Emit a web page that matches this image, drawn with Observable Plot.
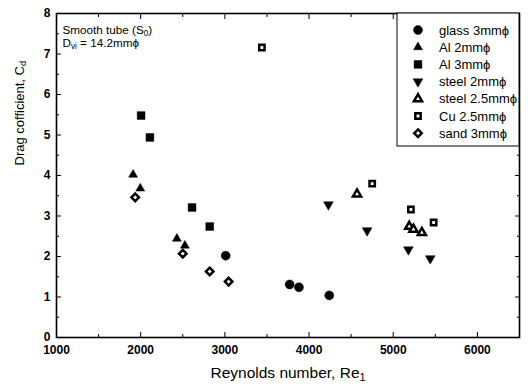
<!DOCTYPE html>
<html><head><meta charset="utf-8">
<script src="https://cdn.jsdelivr.net/npm/d3@7"></script>
<script src="https://cdn.jsdelivr.net/npm/@observablehq/plot@0.6"></script>
<style>body{margin:0;background:#fff} #chart{width:529px;height:390px}</style>
</head><body><div id="chart"></div>
<script>
// ---- data ----
const seriesNames = ["glass 3mmϕ", "Al 2mmϕ", "Al 3mmϕ", "steel 2mmϕ", "steel 2.5mmϕ", "Cu 2.5mmϕ", "sand 3mmϕ"];
const glassRe = [3010, 3770, 3880, 4240];
const glassCd = [2.02, 1.31, 1.24, 1.04];
const al2Re = [1910, 1995, 2430, 2525];
const al2Cd = [4.02, 3.68, 2.44, 2.27];
const al3Re = [2005, 2110, 2610, 2820];
const al3Cd = [5.48, 4.94, 3.21, 2.74];
const steel2Re = [4230, 4690, 5180, 5440];
const steel2Cd = [3.28, 2.64, 2.17, 1.95];
const steel25Re = [4570, 5190, 5240, 5340];
const steel25Cd = [3.54, 2.74, 2.67, 2.59];
const cuRe = [3440, 4750, 5210, 5480];
const cuCd = [7.16, 3.80, 3.16, 2.84];
const sandRe = [1935, 2500, 2820, 3045];
const sandCd = [3.46, 2.07, 1.63, 1.38];
const xMajorTicks = [1000, 2000, 3000, 4000, 5000, 6000];
const xMinorTicks = [1500, 2500, 3500, 4500, 5500];
const yMajorTicks = [0, 1, 2, 3, 4, 5, 6, 7, 8];
const yMinorTicks = [0.5, 1.5, 2.5, 3.5, 4.5, 5.5, 6.5, 7.5];

// ---- symbols & styles ----
const triDown = {draw(ctx, size) {
  const y = -Math.sqrt(size / (3 * Math.sqrt(3)));
  ctx.moveTo(0, -y * 2); ctx.lineTo(-Math.sqrt(3) * y, y); ctx.lineTo(Math.sqrt(3) * y, y); ctx.closePath();
}};
const diamondSq = {draw(ctx, size) {
  const h = Math.sqrt(size / 2);
  ctx.moveTo(0, -h); ctx.lineTo(h, 0); ctx.lineTo(0, h); ctx.lineTo(-h, 0); ctx.closePath();
}};
const styles = [
  {symbol: d3.symbolCircle, r: 4.5, open: false},
  {symbol: d3.symbolTriangle, r: 3.3, open: false},
  {symbol: d3.symbolSquare, r: 4.4, open: false},
  {symbol: triDown, r: 3.6, open: false},
  {symbol: d3.symbolTriangle, r: 3.0, open: true},
  {symbol: d3.symbolSquare, r: 3.0, open: true},
  {symbol: diamondSq, r: 3.0, open: true}
];
const seriesRe = [glassRe, al2Re, al3Re, steel2Re, steel25Re, cuRe, sandRe];
const seriesCd = [glassCd, al2Cd, al3Cd, steel2Cd, steel25Cd, cuCd, sandCd];

const font = "'Liberation Sans', Arial, Helvetica, sans-serif";
const blank = () => "";
const plain = d => String(d);
const openStroke = 2.5;

const dotMarks = seriesNames.map((name, i) => {
  const st = styles[i];
  const pts = seriesRe[i].map((x, j) => ({x, y: seriesCd[i][j]}));
  return Plot.dot(pts, {
    x: "x", y: "y", symbol: st.symbol, r: st.r,
    fill: st.open ? "white" : "black", stroke: "black", strokeWidth: st.open ? openStroke : 0.5
  });
});

const plot = Plot.plot({
  width: 529, height: 390,
  marginLeft: 56, marginRight: 10, marginTop: 13, marginBottom: 53,
  style: {fontFamily: font, fontSize: "12px", color: "black", background: "white"},
  x: {domain: [1000, 6500]},
  y: {domain: [0, 8]},
  marks: [
    Plot.axisX(xMajorTicks, {anchor: "bottom", tickSize: 0, tickPadding: 8, tickFormat: plain, fontWeight: "bold", fontSize: 12, label: null}),
    Plot.axisX(xMajorTicks, {anchor: "bottom", tickSize: -5, tickFormat: blank, label: null}),
    Plot.axisX(xMinorTicks, {anchor: "bottom", tickSize: -3, tickFormat: blank, label: null}),
    Plot.axisX(xMajorTicks, {anchor: "top", tickSize: -5, tickFormat: blank, label: null}),
    Plot.axisX(xMinorTicks, {anchor: "top", tickSize: -3, tickFormat: blank, label: null}),
    Plot.axisY(yMajorTicks, {anchor: "left", tickSize: 0, tickPadding: 6, tickFormat: plain, fontWeight: "bold", fontSize: 12, label: null}),
    Plot.axisY(yMajorTicks, {anchor: "left", tickSize: -5, tickFormat: blank, label: null}),
    Plot.axisY(yMinorTicks, {anchor: "left", tickSize: -3, tickFormat: blank, label: null}),
    Plot.axisY(yMajorTicks, {anchor: "right", tickSize: -5, tickFormat: blank, label: null}),
    Plot.axisY(yMinorTicks, {anchor: "right", tickSize: -3, tickFormat: blank, label: null}),
    Plot.frame({stroke: "black", strokeWidth: 1.6}),
    Plot.text(["Reynolds number, Re1"], {frameAnchor: "bottom", dy: 40, fontSize: 15.5}),
    Plot.text(["Drag cofficient, Cd"], {frameAnchor: "left", dx: -37, dy: -10, rotate: -90, fontSize: 13}),
    Plot.text(["Smooth tube (S0)"], {frameAnchor: "top-left", dx: 6, dy: 12, textAnchor: "start", fontSize: 11.7}),
    Plot.text(["Dvi = 14.2mmϕ"], {frameAnchor: "top-left", dx: 6, dy: 25, textAnchor: "start", fontSize: 11.7}),
    ...dotMarks
  ]
});

// subscripts
function subify(content, parts) {
  d3.select(plot).selectAll("text").filter(function() { return this.textContent === content; }).each(function() {
    const t = d3.select(this);
    t.text(null);
    parts.forEach(([s, sub]) => {
      const ts = t.append("tspan").text(s);
      if (sub) ts.attr("font-size", "0.7em").attr("baseline-shift", "-25%");
    });
  });
}
subify("Reynolds number, Re1", [["Reynolds number, Re", false], ["1", true]]);
subify("Drag cofficient, Cd", [["Drag cofficient, C", false], ["d", true]]);
subify("Smooth tube (S0)", [["Smooth tube (S", false], ["0", true], [")", false]]);
subify("Dvi = 14.2mmϕ", [["D", false], ["vi", true], [" = 14.2mmϕ", false]]);

// legend
const svg = d3.select(plot);
const lg = svg.append("g").attr("font-family", font).attr("font-size", 13).attr("text-anchor", "start");
lg.append("rect").attr("x", 397).attr("y", 13).attr("width", 122).attr("height", 133)
  .attr("fill", "white").attr("stroke", "black").attr("stroke-width", 1);
seriesNames.forEach((name, i) => {
  const st = styles[i];
  const y = 30 + i * 17.2;
  lg.append("path").attr("transform", `translate(418,${y})`)
    .attr("d", d3.symbol(st.symbol, Math.PI * st.r * st.r)())
    .attr("fill", st.open ? "white" : "black").attr("stroke", "black")
    .attr("stroke-width", st.open ? openStroke : 0.5);
  lg.append("text").attr("x", 439).attr("y", y).attr("dy", "0.35em").attr("text-anchor", "start").text(name);
});

document.getElementById("chart").appendChild(plot);
</script>
</body></html>
